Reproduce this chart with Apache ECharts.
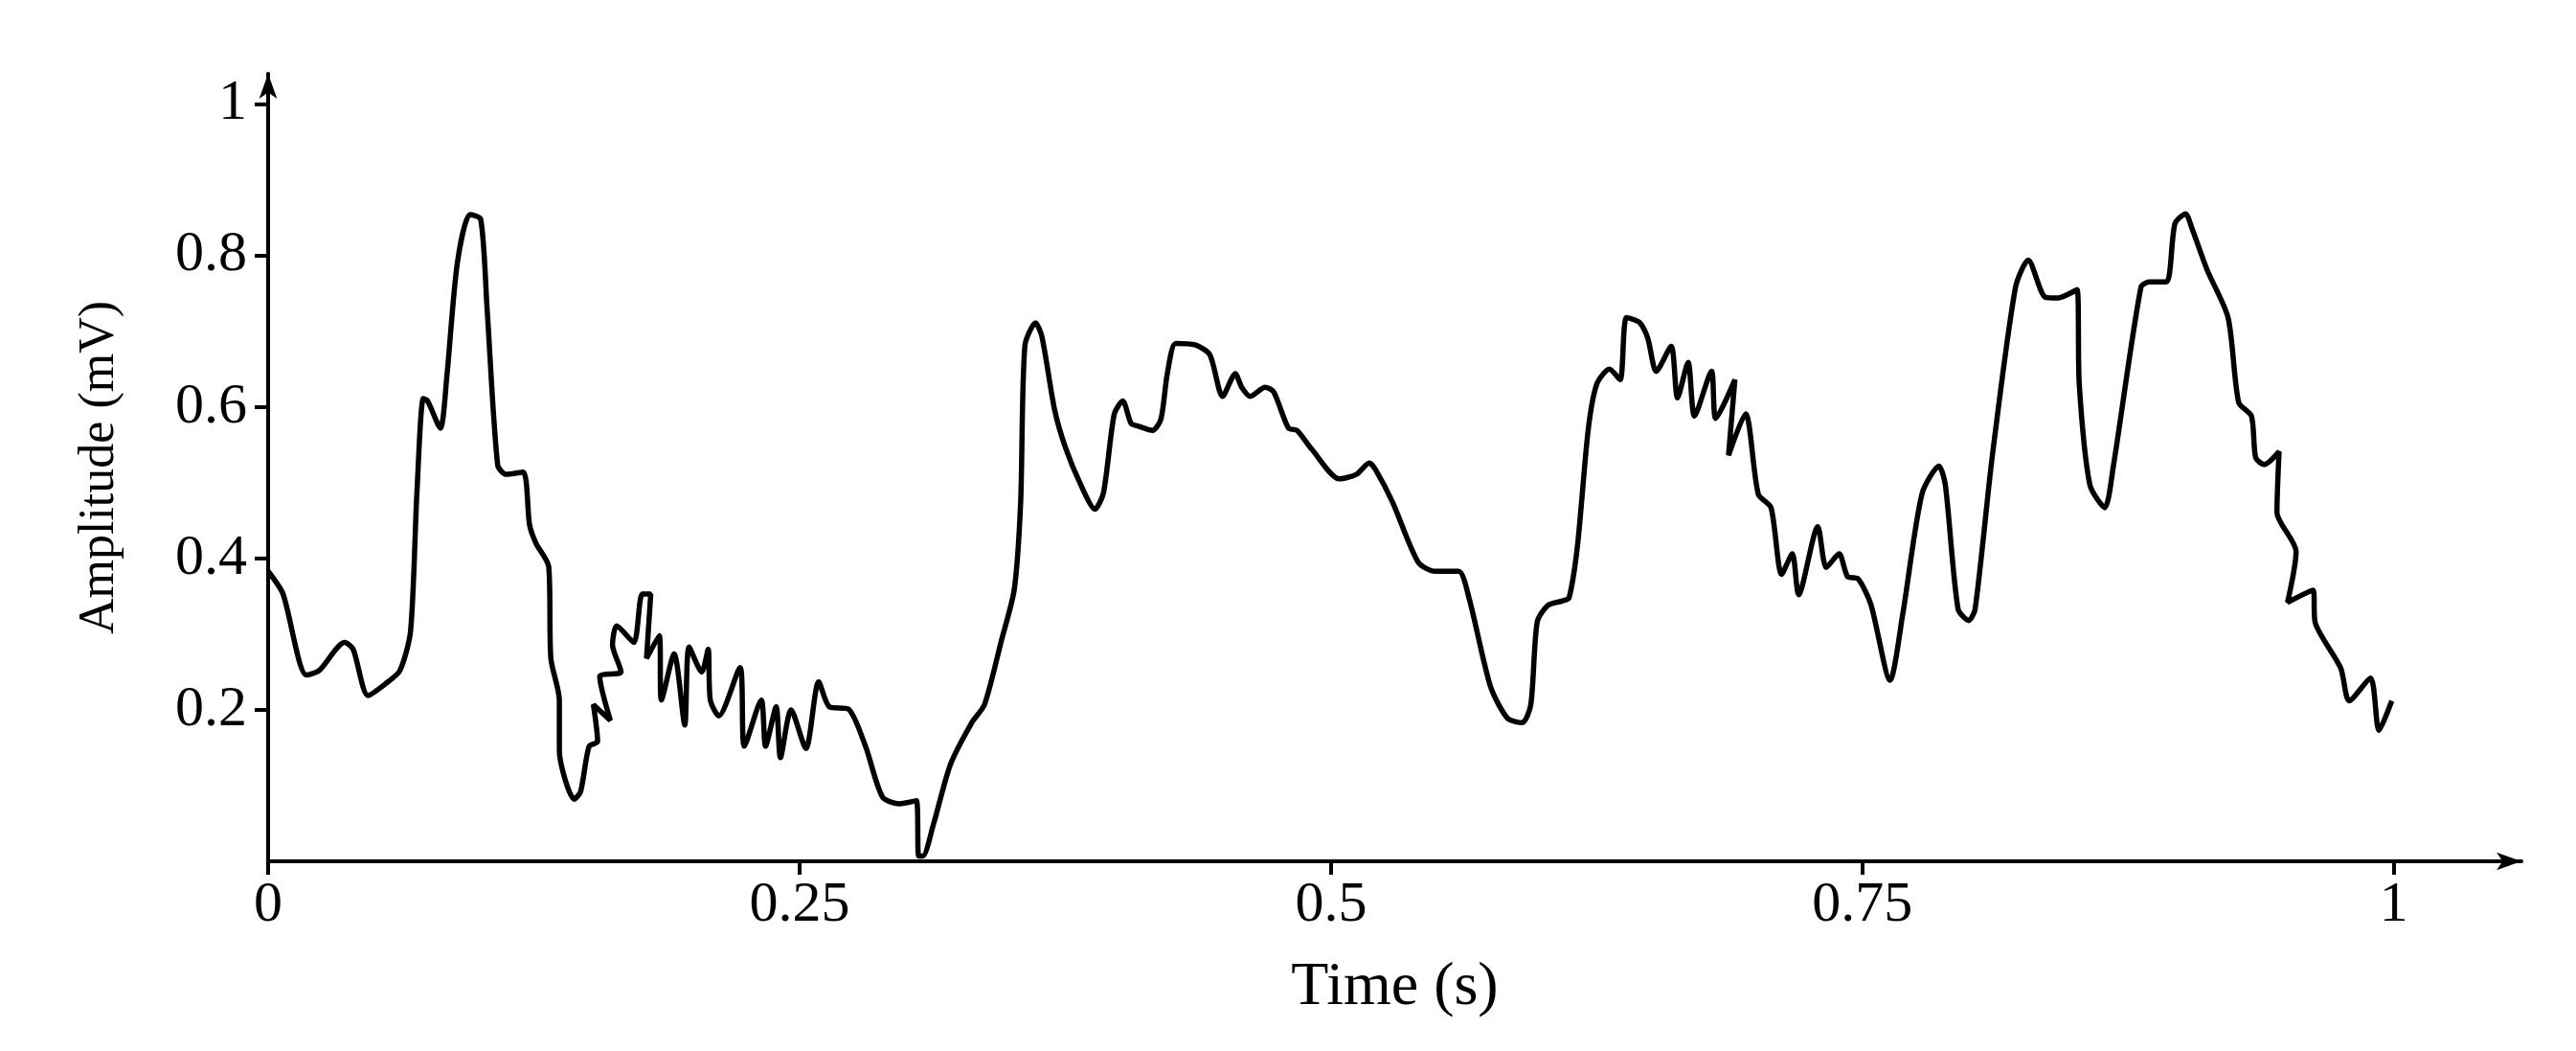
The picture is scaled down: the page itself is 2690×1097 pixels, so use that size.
<!DOCTYPE html>
<html>
<head>
<meta charset="utf-8">
<script src="https://cdn.jsdelivr.net/npm/echarts@6/dist/echarts.min.js"></script>
<style>html,body{margin:0;padding:0;background:#fff}#chart{width:2690px;height:1097px}</style>
</head>
<body>
<div id="chart"></div>
<script>
// signal samples: time (s) and amplitude (mV)
var times = [0,0.007,0.018,0.024,0.036,0.040,0.047,0.055,0.062,0.067,0.070,0.073,0.075,0.081,0.084,0.089,0.095,0.100,0.103,0.108,0.112,0.120,0.123,0.126,0.132,0.133,0.137,0.137,0.144,0.147,0.151,0.155,0.153,0.161,0.156,0.166,0.162,0.164,0.172,0.176,0.180,0.178,0.184,0.185,0.191,0.196,0.198,0.204,0.207,0.208,0.212,0.222,0.224,0.232,0.234,0.239,0.241,0.246,0.253,0.259,0.264,0.273,0.281,0.289,0.297,0.305,0.306,0.308,0.313,0.321,0.331,0.337,0.345,0.351,0.354,0.356,0.361,0.364,0.370,0.375,0.382,0.389,0.393,0.398,0.402,0.406,0.409,0.416,0.420,0.423,0.427,0.436,0.443,0.449,0.455,0.458,0.462,0.469,0.473,0.480,0.484,0.491,0.504,0.512,0.518,0.521,0.529,0.541,0.549,0.560,0.565,0.575,0.583,0.590,0.594,0.597,0.602,0.609,0.612,0.616,0.621,0.625,0.631,0.636,0.639,0.645,0.649,0.653,0.660,0.663,0.668,0.671,0.679,0.681,0.690,0.687,0.695,0.701,0.707,0.712,0.717,0.720,0.729,0.733,0.739,0.743,0.748,0.754,0.763,0.769,0.778,0.786,0.789,0.795,0.800,0.803,0.811,0.822,0.828,0.836,0.842,0.851,0.852,0.857,0.864,0.868,0.881,0.885,0.893,0.897,0.902,0.905,0.912,0.922,0.927,0.933,0.935,0.939,0.946,0.945,0.954,0.950,0.962,0.963,0.975,0.979,0.989,0.993,0.999];
var amps = [0.383,0.353,0.246,0.252,0.289,0.280,0.219,0.234,0.252,0.304,0.487,0.611,0.608,0.572,0.638,0.790,0.854,0.848,0.730,0.523,0.511,0.514,0.444,0.420,0.389,0.268,0.213,0.146,0.082,0.092,0.152,0.158,0.207,0.186,0.244,0.250,0.286,0.311,0.289,0.353,0.353,0.268,0.298,0.213,0.274,0.180,0.283,0.250,0.280,0.213,0.192,0.256,0.152,0.213,0.152,0.204,0.137,0.200,0.149,0.237,0.204,0.201,0.152,0.085,0.076,0.080,0.007,0.007,0.049,0.128,0.183,0.207,0.292,0.359,0.474,0.681,0.711,0.693,0.596,0.547,0.499,0.465,0.487,0.590,0.608,0.578,0.575,0.569,0.584,0.644,0.684,0.682,0.669,0.614,0.644,0.626,0.614,0.626,0.620,0.572,0.569,0.544,0.505,0.511,0.526,0.517,0.474,0.395,0.383,0.383,0.347,0.231,0.189,0.183,0.207,0.316,0.338,0.344,0.348,0.418,0.570,0.630,0.650,0.636,0.718,0.712,0.691,0.647,0.680,0.612,0.659,0.588,0.647,0.585,0.636,0.536,0.591,0.485,0.467,0.379,0.406,0.352,0.442,0.388,0.406,0.376,0.373,0.339,0.239,0.327,0.485,0.522,0.497,0.333,0.318,0.333,0.533,0.758,0.794,0.745,0.744,0.755,0.630,0.497,0.467,0.521,0.758,0.765,0.765,0.842,0.855,0.836,0.782,0.718,0.606,0.588,0.533,0.524,0.541,0.461,0.409,0.342,0.358,0.315,0.255,0.212,0.242,0.173,0.212];
var xTicks = [0, 0.25, 0.5, 0.75, 1];
var yTicks = [0.2, 0.4, 0.6, 0.8, 1];

var points = times.map(function (t, i) { return [t, amps[i]]; });
var serif = 'Liberation Serif';

var option = {
    backgroundColor: '#fff',
    animation: false,
    grid: {left: 280, right: 57, top: 77, bottom: 198},
    xAxis: {
        type: 'value', min: 0, max: 1.06, interval: 0.25,
        name: 'Time (s)', nameLocation: 'middle', nameGap: 100,
        nameTextStyle: {fontFamily: serif, fontSize: 64, color: '#000'},
        splitLine: {show: false},
        axisLine: {lineStyle: {color: '#000', width: 4}, symbol: ['none', 'arrow'], symbolSize: [14, 26]},
        axisTick: {length: 14, lineStyle: {color: '#000', width: 4}},
        axisLabel: {
            fontFamily: serif, fontSize: 60, color: '#000', margin: 16, showMaxLabel: false,
            formatter: function (v) { return xTicks.indexOf(+v.toFixed(2)) >= 0 ? String(+v.toFixed(2)) : ''; }
        }
    },
    yAxis: {
        type: 'value', min: 0, max: 1.04, interval: 0.2,
        name: 'Amplitude (mV)', nameLocation: 'middle', nameGap: 150, nameRotate: 90,
        nameTextStyle: {fontFamily: serif, fontSize: 52, color: '#000'},
        splitLine: {show: false},
        axisLine: {lineStyle: {color: '#000', width: 4}, symbol: ['none', 'arrow'], symbolSize: [14, 26]},
        axisTick: {length: 14, lineStyle: {color: '#000', width: 4}},
        axisLabel: {
            fontFamily: serif, fontSize: 60, color: '#000', margin: 22, showMinLabel: false, showMaxLabel: false,
            formatter: function (v) { return yTicks.indexOf(+v.toFixed(1)) >= 0 ? String(+v.toFixed(1)) : ''; }
        }
    },
    series: [{
        type: 'line',
        data: points,
        smooth: 0.25,
        showSymbol: false,
        lineStyle: {color: '#000', width: 5.5}
    }]
};
var chart = echarts.init(document.getElementById('chart'));
chart.setOption(option);
</script>
</body>
</html>
